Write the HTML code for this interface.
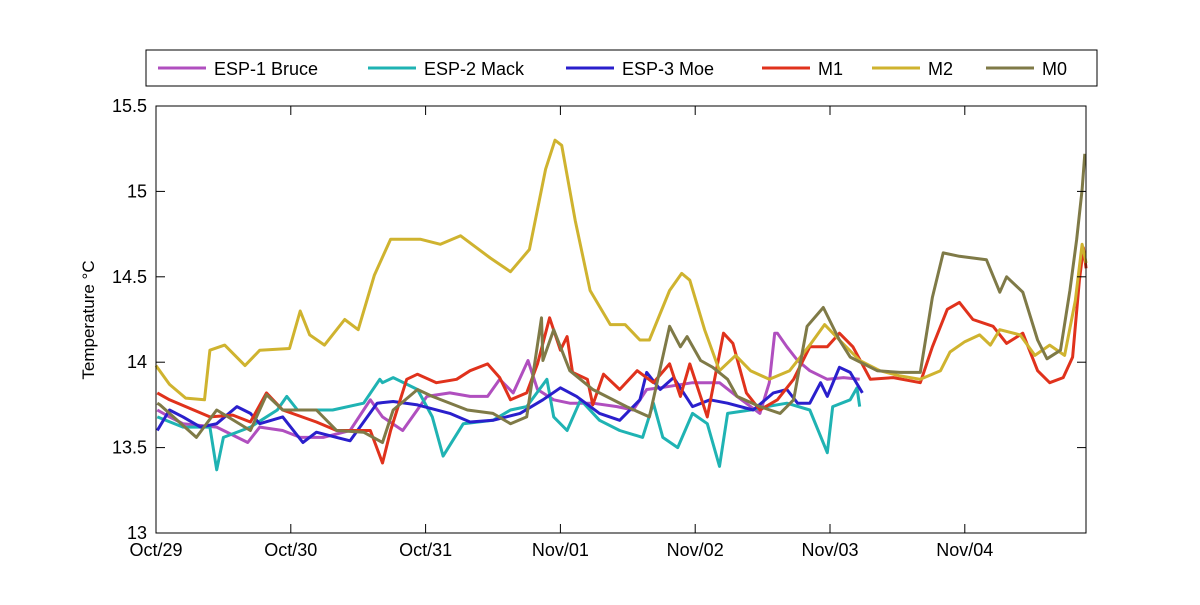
<!DOCTYPE html>
<html><head><meta charset="utf-8"><style>
body{margin:0;background:#fff;}
svg text{font-family:"Liberation Sans",Arial,sans-serif;}
</style></head><body>
<svg id="chart" width="1200" height="600" viewBox="0 0 1200 600">
<rect width="1200" height="600" fill="#fff"/>
<g id="lines"></g>
<g id="axes"></g>
<g id="legend"></g>
</svg>
<script>
const xTickLabels = ["Oct/29","Oct/30","Oct/31","Nov/01","Nov/02","Nov/03","Nov/04"];
const yTicks = [13, 13.5, 14, 14.5, 15, 15.5];
const yTickLabels = ["13","13.5","14","14.5","15","15.5"];
const seriesNames = ["ESP-1 Bruce","ESP-2 Mack","ESP-3 Moe","M1","M2","M0"];
const seriesColors = ["#b04fbf","#1fb3b3","#2a1fcc","#e0321c","#cfb32f","#7f7a47"];

const bruceT = [0.01,0.10,0.20,0.45,0.68,0.77,0.94,1.07,1.24,1.44,1.59,1.68,1.83,2.01,2.18,2.33,2.46,2.55,2.65,2.76,2.83,2.95,3.07,3.24,3.42,3.54,3.64,3.74,3.98,4.18,4.31,4.48,4.55,4.59,4.61,4.68,4.76,4.85,4.98,5.10,5.22];
const bruceV = [13.72,13.68,13.64,13.62,13.53,13.62,13.60,13.56,13.56,13.60,13.78,13.68,13.60,13.80,13.82,13.80,13.80,13.90,13.82,14.01,13.84,13.78,13.76,13.76,13.74,13.72,13.84,13.85,13.88,13.88,13.80,13.70,13.88,14.17,14.17,14.09,14.01,13.95,13.90,13.91,13.90];

const mackT = [0.01,0.20,0.40,0.45,0.50,0.70,0.90,0.97,1.05,1.31,1.54,1.66,1.68,1.76,1.94,2.05,2.13,2.20,2.28,2.50,2.63,2.75,2.90,2.95,3.05,3.15,3.29,3.44,3.61,3.69,3.76,3.87,3.98,4.09,4.18,4.24,4.41,4.53,4.68,4.85,4.98,5.02,5.15,5.20,5.22];
const mackV = [13.68,13.62,13.62,13.37,13.56,13.62,13.72,13.80,13.72,13.72,13.76,13.90,13.88,13.91,13.84,13.68,13.45,13.54,13.64,13.66,13.72,13.74,13.90,13.68,13.60,13.78,13.66,13.60,13.56,13.76,13.56,13.50,13.70,13.64,13.39,13.70,13.72,13.74,13.76,13.72,13.47,13.74,13.78,13.85,13.74];

const moeT = [0.01,0.10,0.20,0.33,0.45,0.60,0.70,0.77,0.94,1.09,1.19,1.34,1.44,1.64,1.76,1.94,2.18,2.33,2.50,2.70,2.87,3.00,3.12,3.29,3.44,3.59,3.64,3.74,3.84,3.98,4.11,4.24,4.43,4.58,4.68,4.76,4.85,4.93,4.98,5.07,5.15,5.24];
const moeV = [13.60,13.72,13.68,13.62,13.64,13.74,13.70,13.64,13.68,13.53,13.59,13.56,13.54,13.76,13.77,13.75,13.70,13.65,13.66,13.70,13.78,13.85,13.80,13.70,13.66,13.78,13.94,13.84,13.91,13.74,13.78,13.76,13.72,13.82,13.84,13.76,13.76,13.88,13.80,13.97,13.94,13.82];

const m1T = [0.01,0.10,0.40,0.57,0.70,0.82,0.94,1.19,1.34,1.44,1.59,1.68,1.74,1.86,1.94,2.08,2.23,2.33,2.46,2.55,2.63,2.75,2.83,2.92,3.00,3.05,3.09,3.20,3.24,3.32,3.44,3.57,3.69,3.81,3.89,3.96,4.09,4.21,4.28,4.38,4.48,4.61,4.73,4.85,4.98,5.07,5.17,5.30,5.47,5.67,5.76,5.87,5.96,6.06,6.21,6.31,6.43,6.54,6.63,6.73,6.80,6.85,6.88,6.90];
const m1V = [13.82,13.78,13.68,13.69,13.65,13.82,13.72,13.65,13.60,13.60,13.60,13.41,13.60,13.90,13.93,13.88,13.90,13.95,13.99,13.91,13.78,13.82,13.99,14.26,14.07,14.15,13.94,13.90,13.75,13.93,13.84,13.95,13.88,13.99,13.80,13.99,13.68,14.17,14.11,13.82,13.72,13.78,13.90,14.09,14.09,14.17,14.09,13.90,13.91,13.88,14.09,14.31,14.35,14.25,14.21,14.11,14.17,13.95,13.88,13.91,14.03,14.48,14.67,14.55];

const m2T = [0,0.10,0.22,0.36,0.40,0.51,0.66,0.77,0.99,1.07,1.14,1.25,1.40,1.50,1.62,1.74,1.96,2.11,2.26,2.48,2.63,2.77,2.89,2.96,3.01,3.11,3.22,3.37,3.48,3.59,3.66,3.81,3.90,3.96,4.07,4.18,4.30,4.41,4.55,4.70,4.85,4.96,5.07,5.22,5.37,5.52,5.67,5.82,5.89,6.00,6.11,6.19,6.26,6.41,6.52,6.63,6.74,6.82,6.87,6.90];
const m2V = [13.98,13.87,13.79,13.78,14.07,14.10,13.98,14.07,14.08,14.30,14.16,14.10,14.25,14.19,14.51,14.72,14.72,14.69,14.74,14.61,14.53,14.66,15.13,15.30,15.27,14.83,14.42,14.22,14.22,14.13,14.13,14.42,14.52,14.48,14.19,13.95,14.04,13.95,13.90,13.95,14.10,14.22,14.13,14.01,13.95,13.92,13.90,13.95,14.06,14.12,14.16,14.10,14.19,14.16,14.04,14.10,14.04,14.36,14.69,14.58];

const m0T = [0.01,0.03,0.30,0.45,0.70,0.82,0.94,1.19,1.34,1.54,1.68,1.76,1.94,2.05,2.31,2.50,2.63,2.75,2.86,2.87,2.95,3.07,3.24,3.49,3.66,3.81,3.89,3.94,4.04,4.13,4.24,4.31,4.48,4.63,4.73,4.83,4.95,5.07,5.15,5.35,5.52,5.67,5.76,5.84,5.96,6.16,6.26,6.31,6.43,6.54,6.61,6.71,6.78,6.83,6.87,6.89];
const m0V = [13.76,13.75,13.56,13.72,13.60,13.81,13.72,13.72,13.60,13.59,13.53,13.72,13.84,13.80,13.72,13.70,13.64,13.68,14.26,14.01,14.19,13.95,13.84,13.74,13.68,14.21,14.09,14.15,14.01,13.97,13.90,13.80,13.74,13.70,13.78,14.21,14.32,14.13,14.03,13.95,13.94,13.94,14.38,14.64,14.62,14.60,14.41,14.50,14.41,14.13,14.02,14.07,14.42,14.72,15.01,15.22];

const seriesT = [bruceT,mackT,moeT,m1T,m2T,m0T];
const seriesV = [bruceV,mackV,moeV,m1V,m2V,m0V];

const NS="http://www.w3.org/2000/svg";
const X0=156,X1=1086,Y0=533,Y1=106;
const dayPx=134.8;
function xs(d){return X0+d*dayPx;}
function ys(v){return Y0-(v-13)/(15.5-13)*(Y0-Y1);}
function mk(tag,attrs,parent){const e=document.createElementNS(NS,tag);for(const k in attrs)e.setAttribute(k,attrs[k]);parent.appendChild(e);return e;}

const lines=document.getElementById('lines');
const slugs=["esp1-bruce","esp2-mack","esp3-moe","m1","m2","m0"];
for(let s=0;s<6;s++){
  const pts=seriesT[s].map((t,i)=>xs(t).toFixed(1)+","+ys(seriesV[s][i]).toFixed(1)).join(" ");
  const p=mk('polyline',{points:pts,fill:'none',stroke:seriesColors[s],'stroke-width':3,'stroke-linejoin':'round'},lines);
  
  
}

const axes=document.getElementById('axes');
const box=mk('rect',{x:X0,y:Y1,width:X1-X0,height:Y0-Y1,fill:'none',stroke:'#000','stroke-width':1},axes);


yTicks.forEach((v,i)=>{
  const y=ys(v);
  mk('line',{x1:X0,x2:X0+9,y1:y,y2:y,stroke:'#000'},axes);
  mk('line',{x1:X1-9,x2:X1,y1:y,y2:y,stroke:'#000'},axes);
  const t=mk('text',{x:X0-9,y:y+6,'text-anchor':'end','font-size':18},axes);
  t.textContent=yTickLabels[i];
  
  
});
xTickLabels.forEach((lab,i)=>{
  const x=xs(i);
  mk('line',{x1:x,x2:x,y1:Y0,y2:Y0-9,stroke:'#000'},axes);
  mk('line',{x1:x,x2:x,y1:Y1,y2:Y1+9,stroke:'#000'},axes);
  const t=mk('text',{x:x,y:556,'text-anchor':'middle','font-size':18},axes);
  t.textContent=lab;
  
  
});
const yt=mk('text',{x:0,y:0,'text-anchor':'middle','font-size':17,transform:'translate(94,320) rotate(-90)'},axes);
yt.textContent="Temperature °C";



const legend=document.getElementById('legend');
const lb=mk('rect',{x:146,y:50,width:951,height:36,fill:'#fff',stroke:'#000','stroke-width':1},legend);


const lx=[158,368,566,762,872,986];
for(let s=0;s<6;s++){
  const g=mk('g',{},legend);
  
  
  mk('line',{x1:lx[s],x2:lx[s]+48,y1:68,y2:68,stroke:seriesColors[s],'stroke-width':3},g);
  const t=mk('text',{x:lx[s]+56,y:75,'font-size':18},g);
  t.textContent=seriesNames[s];
}
</script>
</body></html>
